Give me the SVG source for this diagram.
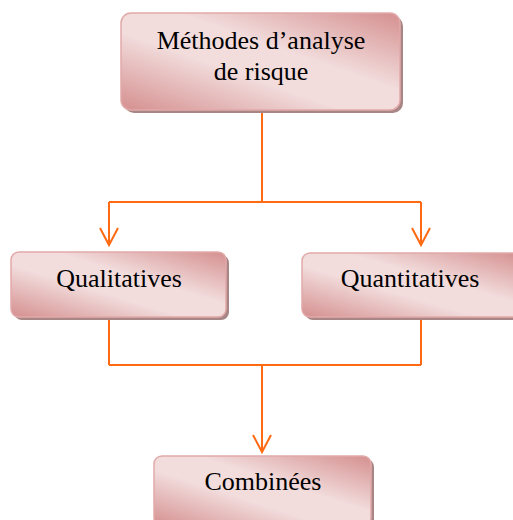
<svg xmlns="http://www.w3.org/2000/svg" width="513" height="520" viewBox="0 0 513 520">
<defs>
<linearGradient id="g" x1="1" y1="0" x2="0" y2="1">
<stop offset="0" stop-color="#d58f8f"/>
<stop offset="0.4" stop-color="#f2dcdc"/>
<stop offset="0.6" stop-color="#f2dcdc"/>
<stop offset="1" stop-color="#d58f8f"/>
</linearGradient>
<marker id="arr" markerUnits="userSpaceOnUse" markerWidth="40" markerHeight="40" refX="0" refY="0" orient="auto" overflow="visible">
<path d="M-17,-9 L0,0 L-17,9" fill="none" stroke="#ff6a13" stroke-width="2"/>
</marker>
</defs>
<style>
.sh{fill:#a88686;}
.bx{fill:url(#g);stroke:#e2a9a9;stroke-width:1.5;}
.t{font-family:"Liberation Serif","Times New Roman",serif;font-size:26px;fill:#000;text-anchor:middle;}
.c{fill:none;stroke:#ff6a13;stroke-width:2;}
</style>
<rect width="513" height="520" fill="#fff"/>
<g id="connectors">
<path class="c" d="M262 110 V202 M109 202 H421 M109 365 H421 M109 318 V365 M421 318 V365"/>
<path class="c" d="M109 202 V245" marker-end="url(#arr)"/>
<path class="c" d="M421 202 V245" marker-end="url(#arr)"/>
<path class="c" d="M262 365 V452" marker-end="url(#arr)"/>
</g>
<g id="methodes">
<rect class="sh" x="124" y="16" width="279" height="97" rx="10"/>
<rect class="bx" x="121" y="13" width="279" height="97" rx="10"/>
<text class="t" x="261" y="49">Méthodes d’analyse</text>
<text class="t" x="261" y="80">de risque</text>
</g>
<g id="qualitatives">
<rect class="sh" x="14" y="255" width="215" height="65" rx="8"/>
<rect class="bx" x="11" y="252" width="215" height="65" rx="8"/>
<text class="t" x="119" y="287">Qualitatives</text>
</g>
<g id="quantitatives">
<rect class="sh" x="305" y="256" width="220" height="64" rx="8"/>
<rect class="bx" x="302" y="253" width="220" height="64" rx="8"/>
<text class="t" x="410" y="287">Quantitatives</text>
</g>
<g id="combinees">
<rect class="sh" x="157" y="459" width="217" height="70" rx="8"/>
<rect class="bx" x="154" y="456" width="217" height="70" rx="8"/>
<text class="t" x="263" y="490">Combinées</text>
</g>
</svg>
